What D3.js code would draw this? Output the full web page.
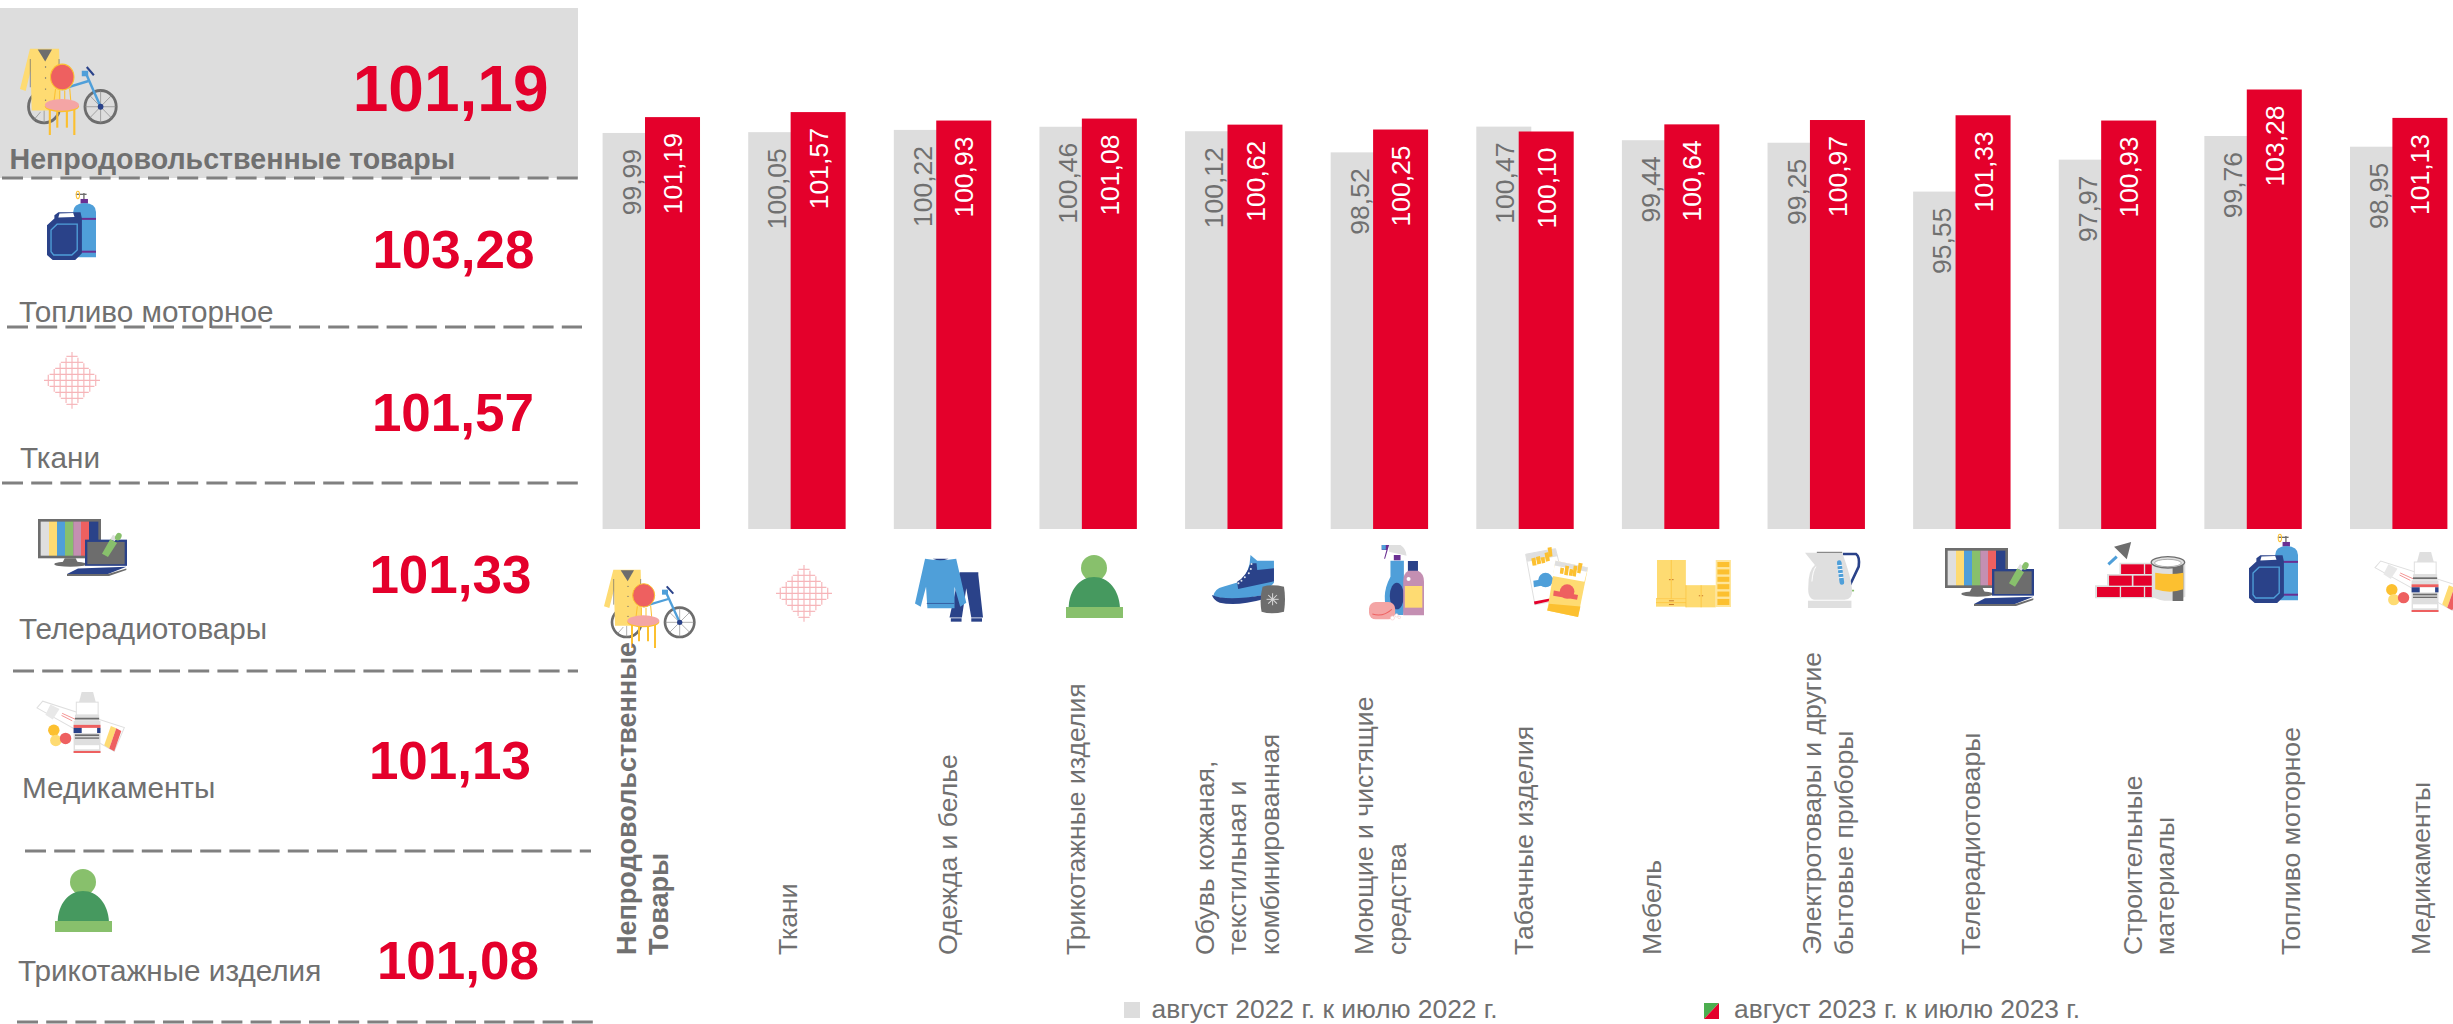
<!DOCTYPE html>
<html lang="ru">
<head>
<meta charset="utf-8">
<title>Индексы цен на непродовольственные товары</title>
<script src="https://cdn.jsdelivr.net/npm/d3@7"></script>
<style>
  html, body { margin: 0; padding: 0; background: #fff; overflow: hidden; }
  svg { display: block; }
  text { font-family: "Liberation Sans", Arial, sans-serif; }
</style>
</head>
<body>
<div id="grafico"></div>
<script>
// ==============================
// DATA
// ==============================

const categories = [
  ["Непродовольственные", "Товары"],
  ["Ткани"],
  ["Одежда и белье"],
  ["Трикотажные изделия"],
  ["Обувь кожаная,", "текстильная и", "комбинированная"],
  ["Моющие и чистящие", "средства"],
  ["Табачные изделия"],
  ["Мебель"],
  ["Электротовары и другие", "бытовые приборы"],
  ["Телерадиотовары"],
  ["Строительные", "материалы"],
  ["Топливо моторное"],
  ["Медикаменты"]
];
const values2022 = [99.99, 100.05, 100.22, 100.46, 100.12, 98.52, 100.47, 99.44, 99.25, 95.55, 97.97, 99.76, 98.95];
const values2023 = [101.19, 101.57, 100.93, 101.08, 100.62, 100.25, 100.10, 100.64, 100.97, 101.33, 100.93, 103.28, 101.13];
const seriesNames = ["август 2022 г. к июлю 2022 г.", "август 2023 г. к июлю 2023 г."];

const topNames = ["Непродовольственные товары", "Топливо моторное", "Ткани", "Телерадиотовары", "Медикаменты", "Трикотажные изделия"];
const topValues = [101.19, 103.28, 101.57, 101.33, 101.13, 101.08];

// ==============================
// LAYOUT (hand placed in the original)
// ==============================

const WIDTH = 2453, HEIGHT = 1024;
const RED = "#e4002b", LIGHT = "#dddddd", TEXT = "#707070";

const categoryShift = [-9, -10, 4.5, -13, 3, 0.7, -2, -19.5, 11, 9, 41, 37, 21.5];
const chartIcons = [
  ["general", 604, 569, 696, 648], ["fabric", 776, 566, 832, 621], ["clothes", 915, 558, 983, 622],
  ["hat", 1066, 555, 1123, 618], ["boot", 1212, 554, 1285, 614], ["cleaner", 1369, 545, 1424, 620],
  ["cigs", 1525, 547, 1588, 617], ["furniture", 1656, 560, 1731, 607], ["kettle", 1805, 551, 1860, 608],
  ["tv", 1945, 548, 2034, 606], ["bricks", 2095, 542, 2186, 602], ["fuel", 2249, 534, 2298, 603],
  ["meds", 2375, 552, 2463, 612]
];
const rowIcons = [
  ["general", 20, 48, 118, 135], ["fuel", 47, 191, 96, 260], ["fabric", 44, 353, 100, 408],
  ["tv", 38, 519, 127, 576], ["meds", 37, 692, 125, 753], ["hat", 55, 869, 112, 932]
];
const rowLabels = [[9.5, 169], [19, 322], [20, 468], [19, 639], [22, 798], [18, 981]];
const rowNumbers = [[548.5, 110.7], [534.5, 268], [534, 431], [531.5, 593], [531, 779], [539, 979]];
const rowRules = [[2, 578, 178], [7, 582, 327], [2, 578, 483], [13, 578, 671], [25, 591, 851], [17, 593, 1022]];

// ==============================
// ICONS (drawn in their own local units)
// ==============================

function fabricMarkup() {
  let s = "";
  for (let k = -4; k <= 4; k++) {
    const d = k * 18;
    const hx = 85 * (1 - Math.abs(d) / 90);
    s += `<line x1="${612 - hx}" x2="${612 + hx}" y1="${160 + d}" y2="${160 + d}"/>`;
    s += `<line y1="${160 - hx}" y2="${160 + hx}" x1="${612 + d}" x2="${612 + d}"/>`;
  }
  return `<g stroke="#f6b5b9" stroke-width="3.5">${s}</g>`;
}

const iconBoxes = {
  general: [12, 88, 288, 325], fabric: [527, 78, 697, 243], clothes: [945, 55, 1148, 245],
  hat: [48, 45, 219, 234], boot: [487, 42, 705, 222], cleaner: [958, 15, 1122, 240],
  cigs: [45, 20, 235, 232], furniture: [438, 60, 664, 200], kettle: [885, 33, 1052, 205],
  tv: [15, 54, 282, 228], bricks: [465, 36, 737, 216], fuel: [928, 12, 1074, 220], meds: [1305, 65, 1567, 245]
};

const iconMarkup = {
  general: `
    <g fill="none" stroke="#6d6d6d" stroke-width="8"><circle cx="80" cy="248" r="44"/><circle cx="239" cy="248" r="44"/></g>
    <g stroke="#8a8a8a" stroke-width="2"><line x1="239" y1="204" x2="239" y2="292"/><line x1="195" y1="248" x2="283" y2="248"/><line x1="208" y1="217" x2="270" y2="279"/><line x1="270" y1="217" x2="208" y2="279"/><line x1="80" y1="258" x2="80" y2="292"/><line x1="50" y1="285" x2="70" y2="262"/></g>
    <g stroke="#4f9fd9" stroke-width="7" fill="none"><path d="M239,248 L200,162"/><path d="M130,200 L205,178"/></g>
    <rect x="186" y="150" width="18" height="15" fill="#4f9fd9"/>
    <line x1="200" y1="140" x2="220" y2="162" stroke="#2a4289" stroke-width="6"/>
    <circle cx="239" cy="248" r="8" fill="#2a4289"/>
    <path d="M40,90 L122,90 L125,200 L125,258 L45,258 L42,150 L28,205 L12,200 Z" fill="#fedb72"/>
    <path d="M62,92 L102,92 L83,125 Z" fill="#6d6d6d"/>
    <line x1="41" y1="118" x2="41" y2="195" stroke="#6d6d6d" stroke-width="2"/>
    <line x1="122" y1="118" x2="122" y2="140" stroke="#6d6d6d" stroke-width="2"/>
    <g fill="#6d6d6d"><circle cx="84" cy="140" r="2"/><circle cx="84" cy="170" r="2"/><circle cx="84" cy="200" r="2"/><circle cx="84" cy="230" r="2"/></g>
    <g stroke="#fcc030" stroke-width="3"><line x1="112" y1="200" x2="108" y2="232"/><line x1="124" y1="204" x2="124" y2="232"/><line x1="138" y1="204" x2="138" y2="232"/><line x1="152" y1="198" x2="155" y2="232"/></g>
    <ellipse cx="131" cy="167" rx="33" ry="35" fill="#ee6060" stroke="#fcc030" stroke-width="3"/>
    <g stroke="#fcc030" stroke-width="6"><line x1="96" y1="255" x2="96" y2="325"/><line x1="117" y1="255" x2="117" y2="305"/><line x1="144" y1="255" x2="144" y2="305"/><line x1="165" y1="255" x2="165" y2="325"/></g>
    <ellipse cx="130" cy="247" rx="48" ry="16" fill="#fcc030"/>
    <ellipse cx="130" cy="243" rx="48" ry="16" fill="#f4a5a5"/>`,
  fabric: fabricMarkup(),
  clothes: `
    <path d="M1078,97 H1134 V105 L1148,232 H1113 L1098,145 L1085,232 H1048 Z" fill="#2a4289"/>
    <rect x="1052" y="234" width="32" height="10" fill="#2a4289"/><rect x="1113" y="234" width="32" height="10" fill="#2a4289"/>
    <path d="M975,57 Q1020,65 1068,57 L1098,188 L1080,200 L1063,140 V204 H982 L978,140 L962,200 L945,190 Z" fill="#4f9fd9"/>
    <path d="M998,57 Q1020,66 1045,57 Z" fill="#2a4289"/>
    <line x1="980" y1="190" x2="1062" y2="190" stroke="#2a4289" stroke-width="2"/>`,
  hat: `
    <circle cx="132" cy="84" r="39" fill="#88c06c"/>
    <path d="M56,205 C56,150 90,111 132,111 C175,111 208,150 210,205 Z" fill="#46995f"/>
    <rect x="48" y="201" width="171" height="33" fill="#88c06c"/>`,
  boot: `
    <path d="M602,45 L622,62 H672 V128 L640,165 L560,180 L490,170 Q495,145 520,140 L570,125 Q600,100 602,45 Z" fill="#4f9fd9"/>
    <path d="M602,70 L620,70 L622,90 L672,85 V124 L565,147 L562,125 Q590,110 602,70 Z" fill="#2a4289"/>
    <path d="M487,165 Q530,185 640,165 V178 Q560,200 510,188 Q490,180 487,165 Z" fill="#2a4289"/>
    <g fill="#dfe6ee"><circle cx="605" cy="72" r="3"/><circle cx="603" cy="87" r="3"/><circle cx="597" cy="100" r="3"/><circle cx="585" cy="112" r="3"/><circle cx="575" cy="122" r="3"/><circle cx="566" cy="130" r="3"/></g>
    <path d="M638,140 Q665,132 702,140 Q708,178 702,215 Q665,225 635,215 Q628,178 638,140 Z" fill="#6d6d6d"/>
    <g stroke="#d8d8d8" stroke-width="3"><line x1="650" y1="178" x2="686" y2="178"/><line x1="668" y1="160" x2="668" y2="196"/><line x1="655" y1="165" x2="681" y2="191"/><line x1="681" y1="165" x2="655" y2="191"/></g>`,
  cleaner: `
    <path d="M1018,15 H1052 Q1068,25 1070,47 L1018,35 Z" fill="#dfdfdf"/>
    <path d="M996,15 H1018 L1006,56 H1003 L1010,30 H996 Z" fill="#6a2f92"/>
    <rect x="996" y="15" width="12" height="14" fill="#4f9fd9"/>
    <rect x="1032" y="45" width="20" height="16" fill="#6a2f92"/>
    <path d="M1022,62 H1062 V110 Q1075,170 1060,225 H1018 Q990,170 1022,110 Z" fill="#4f9fd9"/>
    <ellipse cx="1041" cy="168" rx="21" ry="40" fill="#2a4289"/>
    <rect x="1074" y="63" width="30" height="30" fill="#2a4289"/>
    <path d="M1060,125 Q1060,100 1075,92 H1104 Q1122,100 1122,125 V226 H1060 Z" fill="#c48fb2"/>
    <rect x="1065" y="138" width="52" height="65" fill="#fedb72"/>
    <circle cx="1076" cy="117" r="6" fill="#fff"/>
    <rect x="958" y="186" width="78" height="52" rx="20" fill="#f4a5a5"/>
    <path d="M968,222 Q1000,232 1026,208" fill="none" stroke="#ee6060" stroke-width="3"/>
    <g fill="#fff" stroke="#f6cfd0" stroke-width="2"><circle cx="1028" cy="234" r="6"/><circle cx="1040" cy="226" r="5"/><circle cx="1048" cy="232" r="4"/></g>`,
  cigs: `
    <polygon points="47,42 137,25 175,175 75,195" fill="#fff" stroke="#dfdfdf" stroke-width="3"/>
    <polygon points="47,42 137,25 143,48 52,65" fill="#dfdfdf"/>
    <g fill="#fcc030"><polygon points="64,55 76,52 80,75 68,77"/><polygon points="78,50 90,47 94,70 82,73"/><polygon points="92,52 104,50 106,68 96,70"/><polygon points="104,38 116,35 120,62 108,65"/><polygon points="113,22 125,20 128,48 118,50"/></g>
    <path d="M70,122 L130,112 L136,128 L72,142 Z" fill="#4f9fd9"/><circle cx="107" cy="120" r="22" fill="#4f9fd9"/>
    <polygon points="72,185 120,176 118,184 74,194" fill="#e4002b"/>
    <polygon points="137,62 235,82 205,232 112,212" fill="#fedb72"/>
    <polygon points="118,192 212,200 205,232 112,212" fill="#fcc030"/>
    <polygon points="137,62 235,82 224,125 128,108" fill="#fff"/>
    <polygon points="137,62 235,82 231,95 134,76" fill="#dfdfdf"/>
    <g fill="#fcc030"><polygon points="152,82 163,84 160,102 150,100"/><polygon points="167,76 178,78 174,106 163,104"/><polygon points="180,86 191,88 188,108 177,106"/><polygon points="192,76 203,78 198,110 188,108"/><polygon points="207,68 219,70 212,100 202,98"/></g>
    <path d="M132,152 L205,165 L202,180 L130,168 Z" fill="#ee6060"/><circle cx="172" cy="155" r="22" fill="#ee6060"/>`,
  furniture: `
    <rect x="441" y="60" width="87" height="115" fill="#fedb72"/>
    <rect x="438" y="175" width="90" height="24" fill="#fedb72"/>
    <rect x="528" y="135" width="90" height="66" fill="#fedb72"/>
    <g stroke="#fcc030" stroke-width="2"><line x1="484" y1="60" x2="484" y2="175"/><line x1="438" y1="175" x2="528" y2="175"/><line x1="438" y1="187" x2="528" y2="187"/><line x1="574" y1="135" x2="574" y2="201"/><line x1="528" y1="135" x2="528" y2="201"/></g>
    <g fill="#c97a2c"><rect x="477" y="117" width="5" height="3"/><rect x="486" y="117" width="5" height="3"/><rect x="477" y="180" width="15" height="3"/><rect x="477" y="191" width="15" height="3"/><rect x="567" y="165" width="4" height="3"/><rect x="576" y="165" width="4" height="3"/></g>
    <rect x="618" y="60" width="46" height="140" fill="#fee59b"/>
    <g fill="#fcc030"><rect x="623" y="66" width="36" height="15"/><rect x="623" y="88" width="36" height="15"/><rect x="623" y="110" width="36" height="15"/><rect x="623" y="132" width="36" height="15"/><rect x="623" y="154" width="36" height="15"/><rect x="623" y="176" width="36" height="18"/></g>`,
  kettle: `
    <path d="M1000,42 H1040 Q1052,50 1048,80 L1022,135" fill="none" stroke="#2a4289" stroke-width="8"/>
    <rect x="1022" y="150" width="12" height="5" fill="#88c06c"/>
    <path d="M885,38 H998 Q1025,110 1028,150 Q1030,180 1005,180 H915 Q892,178 895,140 Q895,90 915,75 Z" fill="#dfdfdf"/>
    <line x1="921" y1="37" x2="998" y2="37" stroke="#6d6d6d" stroke-width="3"/>
    <rect x="894" y="183" width="132" height="22" fill="#dfdfdf"/>
    <path d="M918,80 Q908,95 906,125" fill="none" stroke="#fff" stroke-width="3"/>
    <line x1="989" y1="68" x2="997" y2="128" stroke="#4f9fd9" stroke-width="14" stroke-linecap="round"/>
    <g stroke="#fff" stroke-width="3"><line x1="982" y1="78" x2="998" y2="76"/><line x1="984" y1="90" x2="1000" y2="88"/><line x1="985" y1="102" x2="1001" y2="100"/><line x1="987" y1="114" x2="1003" y2="112"/></g>`,
  tv: `
    <rect x="15" y="54" width="189" height="120" fill="#6d6d6d"/>
    <g><rect x="23" y="62" width="25" height="104" fill="#dfdfdf"/><rect x="48" y="62" width="24" height="104" fill="#fedb72"/><rect x="72" y="62" width="24" height="104" fill="#4f9fd9"/><rect x="96" y="62" width="25" height="104" fill="#88c06c"/><rect x="121" y="62" width="23" height="104" fill="#c48fb2"/><rect x="144" y="62" width="24" height="104" fill="#ee6060"/><rect x="168" y="62" width="28" height="104" fill="#2a4289"/></g>
    <polygon points="95,174 128,174 135,188 88,188" fill="#6d6d6d"/>
    <ellipse cx="112" cy="192" rx="48" ry="8" fill="#6d6d6d"/>
    <rect x="156" y="117" width="126" height="80" fill="#2a4289"/>
    <rect x="163" y="124" width="112" height="68" fill="#6d6d6d"/>
    <polygon points="135,205 280,200 225,222 102,222" fill="#2a4289"/>
    <polygon points="102,222 225,222 280,205 280,210 228,228 102,228" fill="#6d6d6d"/>
    <polygon points="207,160 232,115 252,127 225,170" fill="#88c06c"/>
    <polygon points="232,115 240,102 252,110 245,122" fill="#dfdfdf"/>
    <ellipse cx="256" cy="108" rx="9" ry="12" fill="#88c06c" transform="rotate(30 256 108)"/>`,
  bricks: `
    <polygon points="522,50 573,36 560,88" fill="#6d6d6d"/>
    <line x1="505" y1="103" x2="530" y2="80" stroke="#4f9fd9" stroke-width="9"/>
    <polygon points="538,98 640,98 640,205 465,205 465,166 501,166 501,132 538,132" fill="#dfdfdf"/>
    <g fill="#e4002b"><rect x="543" y="103" width="68" height="29"/><rect x="615" y="103" width="20" height="29"/><rect x="507" y="137" width="68" height="30"/><rect x="580" y="137" width="55" height="30"/><rect x="471" y="171" width="68" height="30"/><rect x="543" y="171" width="68" height="30"/><rect x="615" y="171" width="20" height="30"/></g>
    <path d="M635,97 H735 V200 Q685,225 635,200 Z" fill="#dfdfdf"/>
    <rect x="697" y="105" width="32" height="108" fill="#6d6d6d"/>
    <path d="M645,128 Q690,136 729,128 V178 Q690,192 645,178 Z" fill="#fcc030"/>
    <ellipse cx="683" cy="97" rx="50" ry="17" fill="#dfdfdf" stroke="#6d6d6d" stroke-width="4"/>
    <ellipse cx="683" cy="99" rx="40" ry="11" fill="#fff" stroke="#8a8a8a" stroke-width="2"/>`,
  fuel: `
    <line x1="1014" y1="22" x2="1046" y2="22" stroke="#6d6d6d" stroke-width="4"/>
    <line x1="1038" y1="18" x2="1038" y2="38" stroke="#6d6d6d" stroke-width="4"/>
    <ellipse cx="1020" cy="24" rx="5" ry="11" fill="none" stroke="#fcc030" stroke-width="3"/>
    <rect x="1028" y="36" width="22" height="14" fill="#6a2f92"/>
    <path d="M1006,212 V75 Q1006,50 1040,48 Q1074,50 1074,75 V212 Z" fill="#4f9fd9"/>
    <rect x="1030" y="93" width="44" height="6" fill="#6a2f92"/><rect x="1030" y="192" width="44" height="6" fill="#6a2f92"/>
    <polygon points="950,85 962,76 1028,76 1032,95 1032,200 1012,220 945,220 928,205 928,115 950,95" fill="#2a4289"/>
    <polygon points="965,80 1006,78 1010,90 962,92" fill="#fff"/>
    <polygon points="958,112 1018,112 1018,190 1002,205 948,205 940,195 940,130" fill="none" stroke="#4f9fd9" stroke-width="4"/>`,
  meds: `
    <polygon points="1322,92 1305,112 1535,240 1565,170" fill="#fff" stroke="#dfdfdf" stroke-width="3"/>
    <polygon points="1345,102 1372,115 1352,146 1330,132" fill="#e8e8e8"/>
    <g stroke="#ee6060" stroke-width="2"><line x1="1380" y1="128" x2="1420" y2="146"/><line x1="1378" y1="134" x2="1410" y2="150"/></g>
    <polygon points="1525,165 1541,172 1520,232 1505,222" fill="#fedb72"/>
    <polygon points="1541,172 1556,180 1535,240 1520,232" fill="#ee6060"/>
    <circle cx="1355" cy="178" r="17" fill="#fcc030"/><circle cx="1361" cy="208" r="17" fill="#fedb72"/><circle cx="1390" cy="202" r="17" fill="#ee6060"/>
    <polygon points="1438,65 1472,65 1480,95 1430,95" fill="#dfdfdf"/>
    <rect x="1422" y="95" width="65" height="38" fill="#fff" stroke="#dfdfdf" stroke-width="3"/>
    <rect x="1418" y="132" width="72" height="18" fill="#dfdfdf"/><rect x="1418" y="141" width="72" height="5" fill="#6d6d6d"/>
    <rect x="1414" y="150" width="80" height="95" fill="#dfdfdf"/>
    <rect x="1414" y="162" width="80" height="9" fill="#ee6060"/>
    <rect x="1438" y="171" width="46" height="15" fill="#fff"/>
    <rect x="1414" y="171" width="24" height="15" fill="#2a4289"/><rect x="1484" y="171" width="10" height="15" fill="#2a4289"/>
    <rect x="1418" y="190" width="72" height="5" fill="#6d6d6d"/><rect x="1418" y="199" width="72" height="4" fill="#6d6d6d"/>
    <rect x="1418" y="222" width="72" height="12" fill="#fff"/>
    <rect x="1414" y="239" width="80" height="6" fill="#ee6060"/>`
};

// ==============================
// SVG BASE
// ==============================

const svg = d3.select("#grafico").append("svg").attr("width", WIDTH).attr("height", HEIGHT);
const defs = svg.append("defs");
Object.keys(iconMarkup).forEach(k => defs.append("g").attr("id", "icon-" + k).html(iconMarkup[k]));

function drawIcon(parent, [name, x0, y0, x1, y1]) {
  const [bx0, by0, bx1, by1] = iconBoxes[name];
  const sx = (x1 - x0) / (bx1 - bx0), sy = (y1 - y0) / (by1 - by0);
  parent.append("use")
    .attr("href", "#icon-" + name)
    .attr("transform", `translate(${x0},${y0}) scale(${sx},${sy}) translate(${-bx0},${-by0})`);
}

const fmt = d3.formatLocale({ decimal: ",", thousands: " ", grouping: [3], currency: ["", ""] }).format(".2f");

// ==============================
// LEFT PANEL
// ==============================

const panel = svg.append("g");
panel.append("rect").attr("x", 0).attr("y", 8).attr("width", 578).attr("height", 170).attr("fill", LIGHT);

rowIcons.forEach(d => drawIcon(panel, d));

panel.selectAll("line.rule").data(rowRules).join("line")
  .attr("class", "rule")
  .attr("x1", d => d[0]).attr("x2", d => d[1])
  .attr("y1", d => d[2]).attr("y2", d => d[2])
  .attr("stroke", "#808080").attr("stroke-width", 3).attr("stroke-dasharray", "21 8.2");

panel.selectAll("text.rowlabel").data(topNames).join("text")
  .attr("class", "rowlabel")
  .attr("x", (d, i) => rowLabels[i][0]).attr("y", (d, i) => rowLabels[i][1])
  .attr("fill", TEXT)
  .attr("font-size", (d, i) => i === 0 ? 28.6 : 29.7)
  .attr("font-weight", (d, i) => i === 0 ? "bold" : "normal")
  .text(d => d);

panel.selectAll("text.rownumber").data(topValues).join("text")
  .attr("class", "rownumber")
  .attr("x", (d, i) => rowNumbers[i][0]).attr("y", (d, i) => rowNumbers[i][1])
  .attr("text-anchor", "end").attr("fill", RED).attr("font-weight", "bold")
  .attr("font-size", (d, i) => i === 0 ? 64 : 53)
  .text(d => fmt(d));

// ==============================
// BARS
// ==============================

const x = d3.scaleBand()
  .domain(d3.range(categories.length))
  .range([602.6, 2447.4])
  .paddingInner(0.331)
  .paddingOuter(0);

const y = d3.scaleLinear().domain([70, 104]).range([529, 80]);

const BAR_W = 55;
const series = [
  { values: values2022, dx: 0, fill: LIGHT, label: TEXT },
  { values: values2023, dx: x.bandwidth() - BAR_W, fill: RED, label: "#fff" }
];

series.forEach(s => {
  const g = svg.append("g");
  g.selectAll("rect").data(s.values).join("rect")
    .attr("x", (d, i) => x(i) + s.dx)
    .attr("y", d => y(d))
    .attr("width", BAR_W)
    .attr("height", d => y.range()[0] - y(d))
    .attr("fill", s.fill);
});

// labels go on top, the red bars cover part of the grey ones
series.forEach((s, k) => {
  svg.append("g").selectAll("text").data(s.values).join("text")
    .attr("transform", (d, i) => {
      const cx = k === 0 ? x(i) + 28.5 : x(i) + s.dx + BAR_W / 2;
      return `translate(${cx},${y(d) + 16}) rotate(-90)`;
    })
    .attr("dy", "0.36em")
    .attr("text-anchor", "end")
    .attr("font-size", 26.5)
    .attr("fill", s.label)
    .text(d => fmt(d));
});

// ==============================
// ICONS AND CATEGORY LABELS
// ==============================

const axisIcons = svg.append("g");
chartIcons.forEach(d => drawIcon(axisIcons, d));

const LINE_H = 32.5;
categories.forEach((lines, i) => {
  const cx = x(i) + x.bandwidth() / 2 + categoryShift[i];
  const first = cx - (lines.length - 1) * LINE_H / 2;
  lines.forEach((line, j) => {
    svg.append("text")
      .attr("transform", `translate(${first + j * LINE_H},955) rotate(-90)`)
      .attr("dy", "0.36em")
      .attr("font-size", i === 0 ? 27 : 26.6)
      .attr("fill", TEXT)
      .attr("font-weight", i === 0 ? "bold" : "normal")
      .text(line);
  });
});

// ==============================
// LEGEND
// ==============================

svg.append("rect").attr("x", 1124).attr("y", 1002).attr("width", 16).attr("height", 16).attr("fill", LIGHT);
svg.append("text").attr("x", 1151.5).attr("y", 1018).attr("font-size", 26.4).attr("fill", TEXT).text(seriesNames[0]);

svg.append("polygon").attr("points", "1704,1003 1719,1003 1704,1019").attr("fill", "#4cae4f");
svg.append("polygon").attr("points", "1719,1003 1719,1019 1704,1019").attr("fill", RED);
svg.append("text").attr("x", 1734).attr("y", 1018).attr("font-size", 26.4).attr("fill", TEXT).text(seriesNames[1]);
</script>
</body>
</html>
